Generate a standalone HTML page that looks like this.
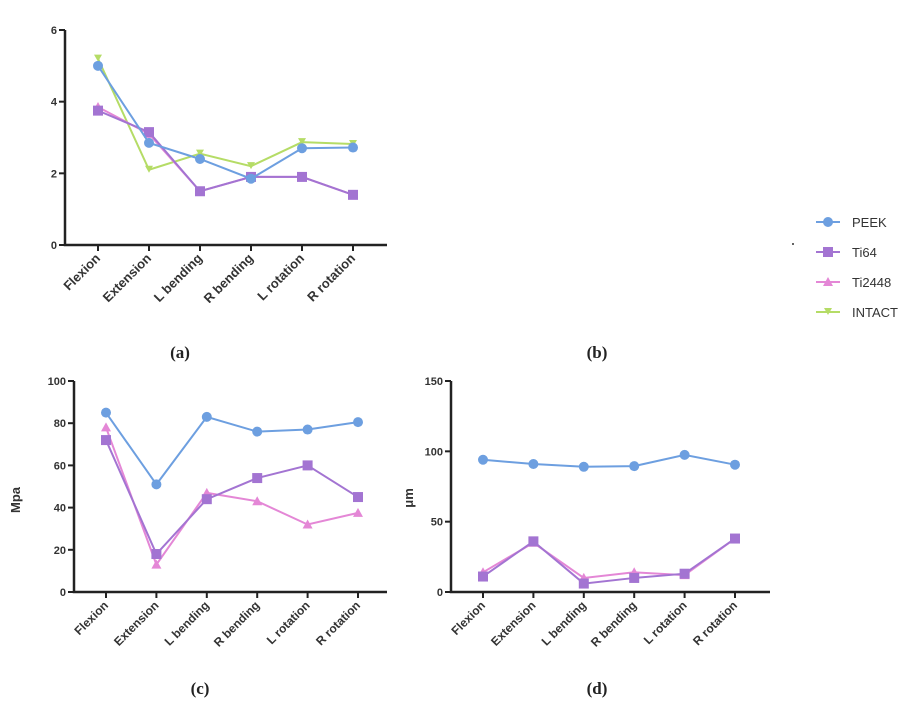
<!DOCTYPE html>
<html><head><meta charset="utf-8"><style>
body{margin:0;background:#fff;width:918px;height:720px;overflow:hidden}
svg{font-family:"Liberation Sans",sans-serif}
</style></head><body>
<svg id="fig" width="918" height="720">
<defs><clipPath id="clipA" clipPathUnits="userSpaceOnUse"><rect x="0" y="248" width="400" height="55"/></clipPath></defs>
</svg>
<script>
const categories=["Flexion","Extension","L bending","R bending","L rotation","R rotation"];
const seriesNames=["PEEK","Ti64","Ti2448","INTACT"];
const colors=["#6d9fe0","#a374d2","#e487d6","#b5dc66"];
const aPEEK=[5.0,2.85,2.4,1.85,2.7,2.72];
const aTi64=[3.75,3.15,1.5,1.9,1.9,1.4];
const aTi2448=[3.85,3.1,1.5,1.9,1.9,1.4];
const aINTACT=[5.2,2.1,2.55,2.2,2.87,2.82];
const aTicks=["0","2","4","6"];
const cPEEK=[85,51,83,76,77,80.5];
const cTi64=[72,18,44,54,60,45];
const cTi2448=[78,13,47,43,32,37.5];
const cTicks=["0","20","40","60","80","100"];
const dPEEK=[94,91,89,89.5,97.5,90.5];
const dTi64=[11,36,6,10,13,38];
const dTi2448=[14,35,10,14,12,38];
const dTicks=["0","50","100","150"];

const svg=document.getElementById('fig');
const NS="http://www.w3.org/2000/svg";
function mk(tag,attrs,parent){const e=document.createElementNS(NS,tag);for(const k in attrs)e.setAttribute(k,attrs[k]);(parent||svg).appendChild(e);return e;}

function marker(g,shape,x,y,c){
  let m;
  if(shape==0)m=mk('circle',{cx:x,cy:y,r:5,fill:c},g);
  else if(shape==1)m=mk('rect',{x:x-5,y:y-5,width:10,height:10,fill:c},g);
  else if(shape==2)m=mk('polygon',{points:`${x},${y-5} ${x+5},${y+4} ${x-5},${y+4}`,fill:c},g);
  else m=mk('polygon',{points:`${x-4},${y-4} ${x+4},${y-4} ${x},${y+3}`,fill:c},g);
  return m;
}

function chart(opt){
  const g=mk('g',{});
  
  
  const {x0,x1,yTop,yBot,max,xs,ticks,series,clip}=opt;
  const ys=v=>yBot-(v/max)*(yBot-yTop);
  const ax=mk('path',{d:`M${x0} ${yTop}V${yBot}H${x1}`,stroke:'#222','stroke-width':2.5,fill:'none'},g);
  
  
  ticks.forEach((t,i)=>{
    const v=max*i/(ticks.length-1);const y=ys(v);
    mk('line',{x1:x0-6,x2:x0,y1:y,y2:y,stroke:'#222','stroke-width':2},g);
    const tx=mk('text',{x:x0-8,y:y+4,'text-anchor':'end','font-size':11,'font-weight':'bold',fill:'#333'},g);
    tx.textContent=t;
    
    
  });
  const lg=mk('g',{},g);
  if(clip) lg.setAttribute('clip-path','url(#clipA)');
  const fs=clip?13:12;
  categories.forEach((c,i)=>{
    const x=xs(i);
    mk('line',{x1:x,x2:x,y1:yBot,y2:yBot+6,stroke:'#222','stroke-width':2},g);
    const tx=mk('text',{x:x+3,y:yBot+14,'text-anchor':'end','font-size':fs,'font-weight':'bold',fill:'#333',transform:`rotate(-45 ${x+3} ${yBot+14})`},lg);
    tx.textContent=c;
    
    
  });
  series.forEach(s=>{
    const pts=s.vals.map((v,i)=>[xs(i),ys(v)]);
    const p=mk('polyline',{points:pts.map(p=>p.join(',')).join(' '),fill:'none',stroke:colors[s.k],'stroke-width':2},g);
    
    
    pts.forEach(pt=>{
      const m=marker(g,s.k,pt[0],pt[1],colors[s.k]);
      
      
    });
  });
  if(opt.ylabel){
    const t=mk('text',{x:opt.ylx,y:opt.yly,'text-anchor':'middle','font-size':13,'font-weight':'bold',fill:'#333',transform:`rotate(-90 ${opt.ylx} ${opt.yly})`},g);
    t.textContent=opt.ylabel;
    
    
  }
}

chart({name:'chart-a',x0:65,x1:387,yTop:30,yBot:245,max:6,xs:i=>98+i*51,ticks:aTicks,clip:true,
  series:[{k:3,vals:aINTACT},{k:2,vals:aTi2448},{k:1,vals:aTi64},{k:0,vals:aPEEK}]});
chart({name:'chart-c',x0:74,x1:387,yTop:381,yBot:592,max:100,xs:i=>106+i*50.4,ticks:cTicks,ylabel:'Mpa',ylx:20,yly:500,
  series:[{k:2,vals:cTi2448},{k:1,vals:cTi64},{k:0,vals:cPEEK}]});
chart({name:'chart-d',x0:451,x1:770,yTop:381,yBot:592,max:150,xs:i=>483+i*50.4,ticks:dTicks,ylabel:'μm',ylx:413,yly:498,
  series:[{k:2,vals:dTi2448},{k:1,vals:dTi64},{k:0,vals:dPEEK}]});

const lg=mk('g',{});


seriesNames.forEach((n,i)=>{
  const y=222+i*30;
  const e=mk('g',{},lg);
  
  
  mk('line',{x1:816,x2:840,y1:y,y2:y,stroke:colors[i],'stroke-width':2},e);
  marker(e,i,828,y,colors[i]);
  const t=mk('text',{x:852,y:y+5,'font-size':13,fill:'#333'},e);
  t.textContent=n;
});
mk('circle',{cx:793,cy:244,r:1,fill:'#333'});

[["(a)",180,358],["(b)",597,358],["(c)",200,694],["(d)",597,694]].forEach(l=>{
  const t=mk('text',{x:l[1],y:l[2],'text-anchor':'middle','font-size':17,'font-weight':'bold','font-family':'Liberation Serif, serif',fill:'#222'});
  t.textContent=l[0];
  
  
});
</script>
</body></html>
